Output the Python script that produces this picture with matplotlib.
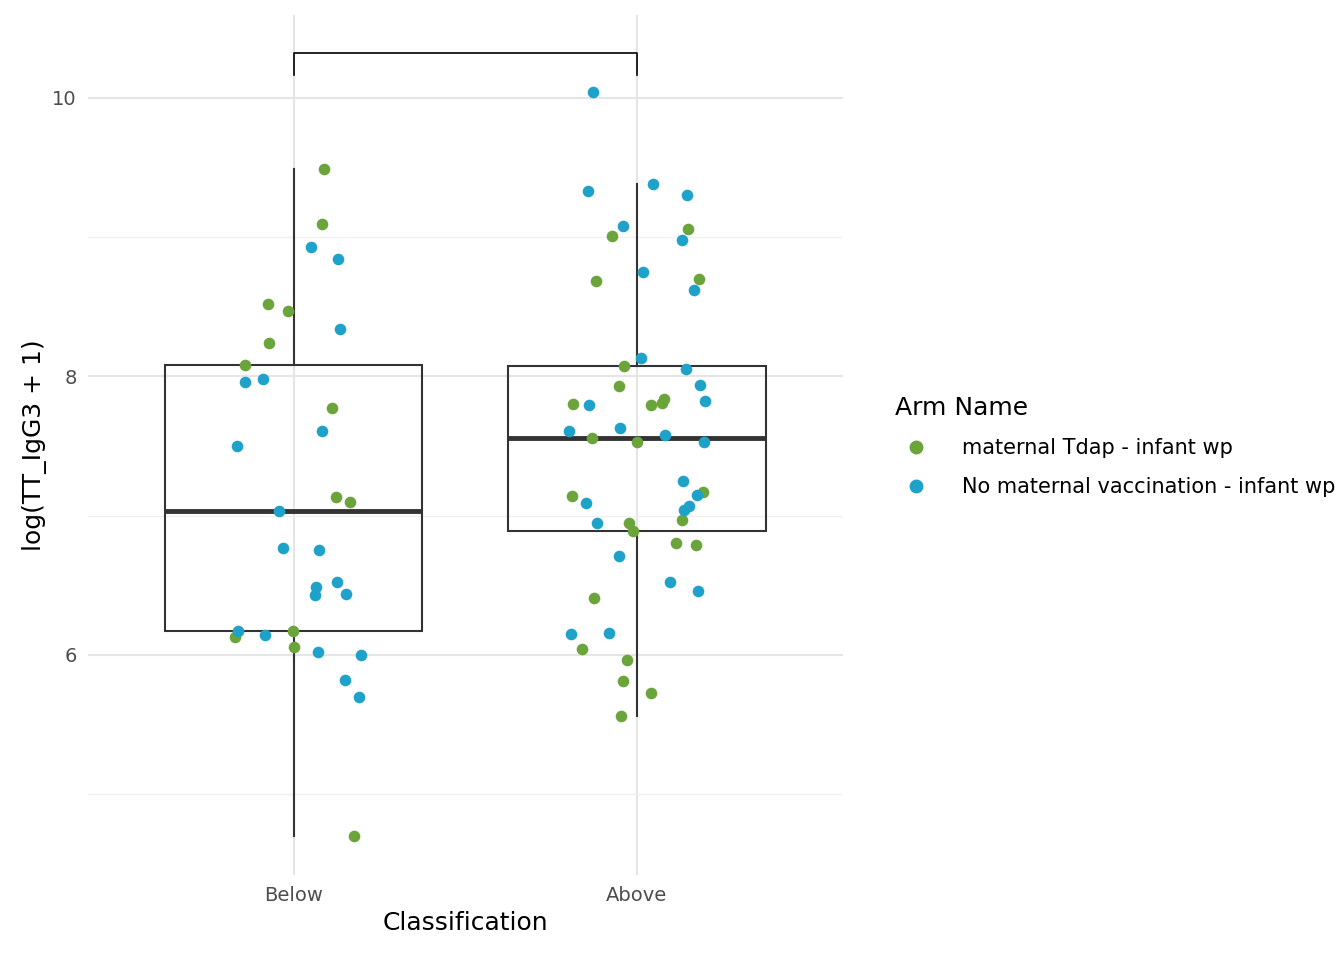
import numpy as np
import matplotlib.pyplot as plt
from matplotlib.lines import Line2D

GREEN = '#6aa43a'
BLUE = '#1fa2c9'

categories = ['Below', 'Above']

# values: (log value, jitter offset)
below_tdap_y = [9.49, 9.09, 8.52, 8.47, 8.24, 8.08, 7.77, 7.13, 7.10, 6.17, 6.13, 6.06, 4.70]
below_tdap_dx = [0.087, 0.082, -0.076, -0.017, -0.073, -0.143, 0.111, 0.122, 0.163, -0.003, -0.172, 0.0, 0.175]
below_none_y = [8.93, 8.84, 8.34, 7.96, 7.98, 7.50, 7.61, 7.03, 6.77, 6.75, 6.52, 6.49, 6.43, 6.44,
                6.17, 6.14, 6.02, 6.00, 5.82, 5.70]
below_none_dx = [0.05, 0.128, 0.134, -0.143, -0.09, -0.166, 0.082, -0.044, -0.032, 0.073, 0.125, 0.064,
                 0.061, 0.152, -0.163, -0.085, 0.07, 0.195, 0.149, 0.19]
above_tdap_y = [9.01, 9.06, 8.68, 8.70, 8.07, 7.93, 7.80, 7.79, 7.84, 7.81, 7.56, 7.53, 7.14, 7.17,
                6.95, 6.89, 6.97, 6.80, 6.79, 6.41, 6.04, 5.96, 5.81, 5.73, 5.56]
above_tdap_dx = [-0.073, 0.149, -0.12, 0.181, -0.038, -0.052, -0.187, 0.041, 0.079, 0.073, -0.131, 0.0,
                 -0.19, 0.192, -0.023, -0.012, 0.131, 0.114, 0.172, -0.125, -0.16, -0.029, -0.041, 0.041, -0.047]
above_none_y = [10.04, 9.33, 9.38, 9.30, 9.08, 8.98, 8.75, 8.62, 8.13, 8.05, 7.94, 7.79, 7.82, 7.61,
                7.63, 7.58, 7.53, 7.25, 7.09, 7.15, 7.07, 7.04, 6.95, 6.71, 6.52, 6.46, 6.15, 6.16]
above_none_dx = [-0.128, -0.143, 0.047, 0.146, -0.041, 0.131, 0.017, 0.166, 0.012, 0.143, 0.184, -0.14,
                 0.198, -0.198, -0.05, 0.082, 0.195, 0.134, -0.149, 0.175, 0.152, 0.137, -0.117, -0.052,
                 0.096, 0.178, -0.192, -0.082]

fig = plt.figure(figsize=(13.44, 9.6), dpi=100)
ax = fig.add_axes([0.0655, 0.0885, 0.5615, 0.8955])

below_all = below_tdap_y + below_none_y
above_all = above_tdap_y + above_none_y
ax.boxplot([below_all, above_all], positions=[1, 2], widths=0.75, showfliers=False, showcaps=False,
           whis=1.5, patch_artist=True, zorder=2,
           boxprops=dict(facecolor='none', edgecolor='#333333', linewidth=1.5),
           whiskerprops=dict(color='#333333', linewidth=1.5),
           medianprops=dict(color='#333333', linewidth=3.5))

ax.scatter(1 + np.array(below_tdap_dx), below_tdap_y, s=70, color=GREEN, zorder=3, lw=0)
ax.scatter(1 + np.array(below_none_dx), below_none_y, s=70, color=BLUE, zorder=3, lw=0)
ax.scatter(2 + np.array(above_tdap_dx), above_tdap_y, s=70, color=GREEN, zorder=3, lw=0)
ax.scatter(2 + np.array(above_none_dx), above_none_y, s=70, color=BLUE, zorder=3, lw=0)

# significance bracket
ax.plot([1, 1, 2, 2], [10.16, 10.32, 10.32, 10.16], color='black', lw=1.2)

ax.set_xlim(0.4, 2.6)
ax.set_ylim(4.42, 10.59)
ax.set_xticks([1, 2])
ax.set_xticklabels(categories)
ax.set_yticks([6, 8, 10])
ax.set_yticks([5, 7, 9], minor=True)
ax.grid(True, which='major', color='#e5e5e5', lw=1.5)
ax.grid(True, which='minor', axis='y', color='#f0f0f0', lw=1)
ax.set_axisbelow(True)
for s in ax.spines.values():
    s.set_visible(False)
ax.tick_params(which='both', length=0, labelsize=14, labelcolor='#4d4d4d', pad=8)
ax.set_xlabel('Classification', fontsize=18)
ax.set_ylabel('log(TT_IgG3 + 1)', fontsize=18)

handles = [Line2D([], [], marker='o', ls='', color=GREEN, markersize=9),
           Line2D([], [], marker='o', ls='', color=BLUE, markersize=9)]
leg = fig.legend(handles, ['maternal Tdap - infant wp', 'No maternal vaccination - infant wp'],
                 title='Arm Name', loc='center left', bbox_to_anchor=(0.652, 0.535), frameon=False,
                 fontsize=15, title_fontsize=18, handletextpad=1.2, labelspacing=0.9)
leg._legend_box.align = 'left'

fig.savefig('out.png', dpi=100)
